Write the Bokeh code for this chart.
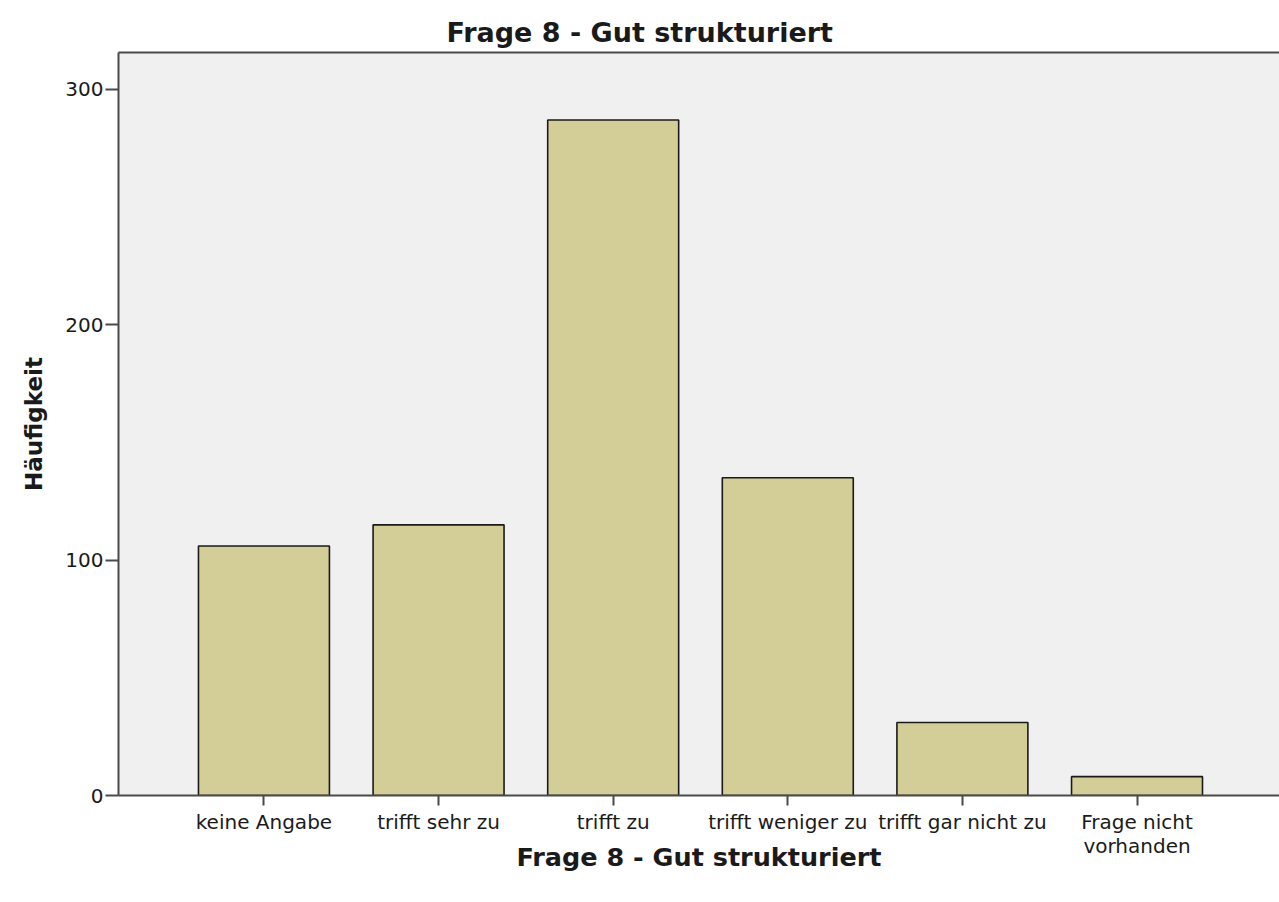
from bokeh.plotting import figure
from bokeh.models import Range1d, FixedTicker, LinearAxis, ColumnDataSource
from bokeh.embed import file_html
from bokeh.resources import INLINE

# ---- data ----
categories = ["keine Angabe", "trifft sehr zu", "trifft zu", "trifft weniger zu",
              "trifft gar nicht zu", "Frage nicht\nvorhanden"]
counts = [106, 115, 287, 135, 31, 8]
y_ticks = [0, 100, 200, 300]
title_text = "Frage 8 - Gut strukturiert"
x_title = "Frage 8 - Gut strukturiert"
y_title = "Häufigkeit"

positions = list(range(len(categories)))
source = ColumnDataSource(data=dict(x=positions, top=counts, label=categories))

FONT = "DejaVu Sans"
AXIS_COLOR = "#4a4a4a"
TEXT_COLOR = "#1a1a1a"

p = figure(width=1279, height=902, output_backend="svg", toolbar_location=None,
           x_range=Range1d(-0.833, 5.816), y_range=Range1d(0, 315.7),
           min_border_left=118, min_border_right=0, min_border_top=52,
           min_border_bottom=107)

p.background_fill_color = "#f0f0f0"
p.border_fill_color = "white"
p.outline_line_color = None
p.xgrid.visible = False
p.ygrid.visible = False

p.vbar(x="x", top="top", width=0.75, bottom=0, source=source,
       fill_color="#d3ce97", line_color="#1a1a1a", line_width=1.6)

# title
p.title.text = title_text
p.title.align = "left"
p.title.offset = 328
p.title.text_font = FONT
p.title.text_font_style = "bold"
p.title.text_font_size = "27px"
p.title.text_color = TEXT_COLOR
p.title.standoff = 10

# x axis
xa = p.xaxis[0]
xa.ticker = FixedTicker(ticks=positions)
xa.major_label_overrides = {i: c for i, c in zip(positions, categories)}
xa.major_label_text_font = FONT
xa.major_label_text_font_size = "20px"
xa.major_label_text_color = TEXT_COLOR
xa.major_label_text_line_height = 1.0
xa.major_label_standoff = 4
xa.major_tick_out = 10
xa.major_tick_in = 0
xa.minor_tick_line_color = None
xa.major_tick_line_color = AXIS_COLOR
xa.major_tick_line_width = 2
xa.axis_line_color = AXIS_COLOR
xa.axis_line_width = 2
xa.axis_label = x_title
xa.axis_label_text_font = FONT
xa.axis_label_text_font_style = "bold"
xa.axis_label_text_font_size = "25.5px"
xa.axis_label_text_color = TEXT_COLOR
xa.axis_label_standoff = -19

# y axis
ya = p.yaxis[0]
ya.ticker = FixedTicker(ticks=y_ticks)
ya.major_label_text_font = FONT
ya.major_label_text_font_size = "20px"
ya.major_label_text_color = TEXT_COLOR
ya.major_label_standoff = 2
ya.major_tick_out = 13
ya.major_tick_in = 0
ya.minor_tick_line_color = None
ya.major_tick_line_color = AXIS_COLOR
ya.major_tick_line_width = 2
ya.axis_line_color = AXIS_COLOR
ya.axis_line_width = 2
ya.axis_label = y_title
ya.axis_label_text_font = FONT
ya.axis_label_text_font_style = "bold"
ya.axis_label_text_font_size = "23px"
ya.axis_label_text_color = TEXT_COLOR
ya.axis_label_standoff = 15

# top border line
top_axis = LinearAxis(ticker=FixedTicker(ticks=[]), major_tick_out=0, major_tick_in=0,
                      minor_tick_line_color=None, major_label_text_font_size="0px",
                      major_label_standoff=0, axis_line_color=AXIS_COLOR,
                      axis_line_width=2)
p.add_layout(top_axis, "above")

open("out.html", "w").write(file_html(p, INLINE))
